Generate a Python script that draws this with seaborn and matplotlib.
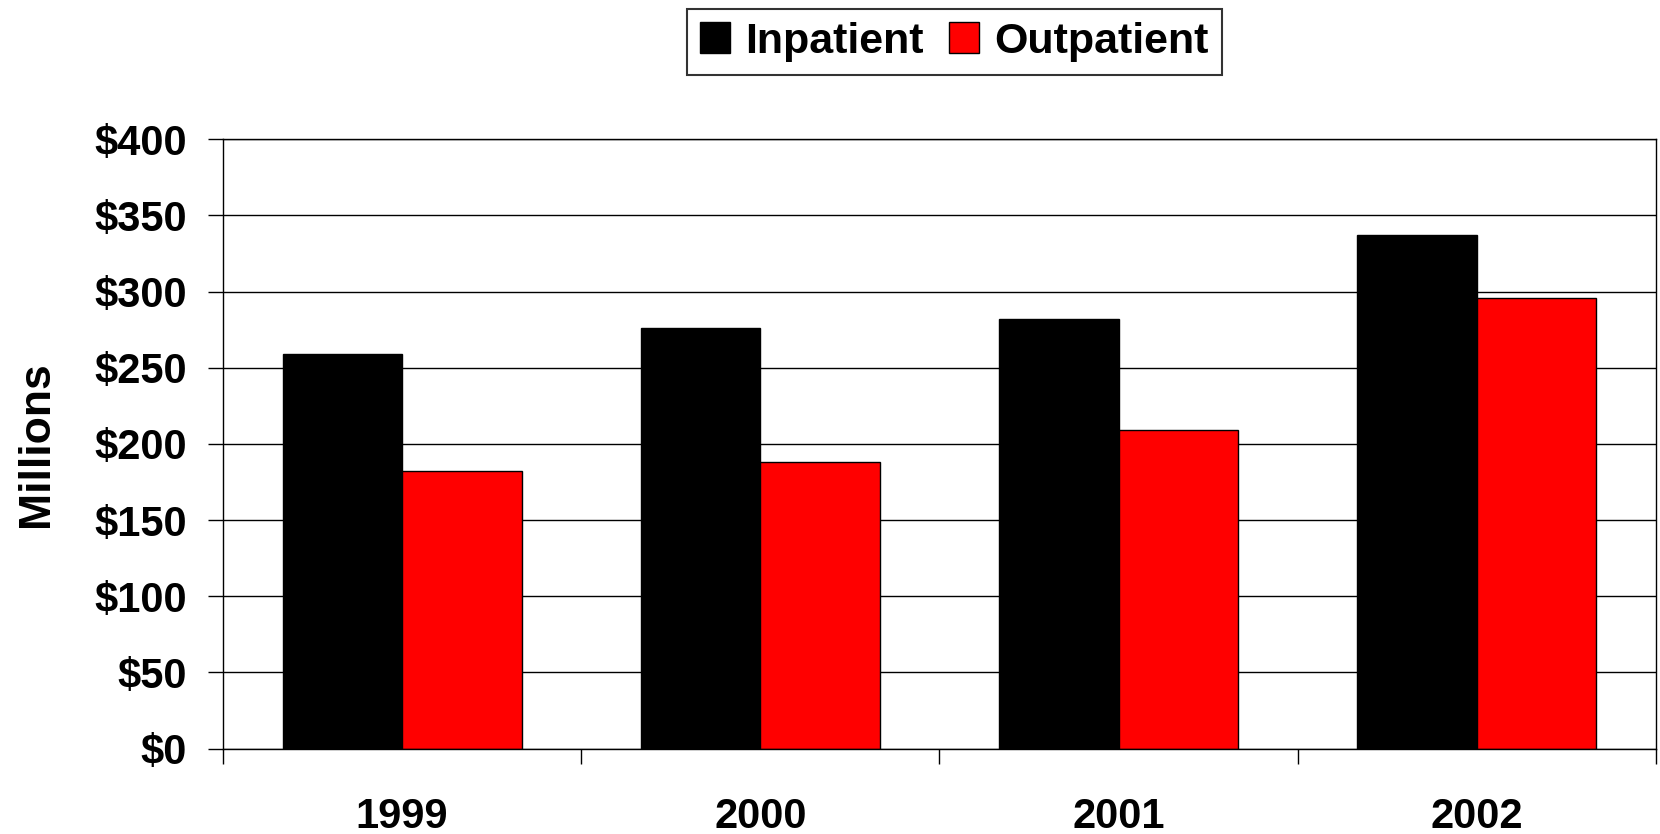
import matplotlib
matplotlib.use("Agg")
import matplotlib.pyplot as plt
import matplotlib.ticker as mticker
from matplotlib.patches import Patch
import seaborn as sns
import pandas as pd

years = ["1999", "2000", "2001", "2002"]
inpatient = [259, 276, 282, 337]
outpatient = [182, 188, 209, 296]
series_names = ["Inpatient", "Outpatient"]
y_ticks = [0, 50, 100, 150, 200, 250, 300, 350, 400]

df = pd.DataFrame({
    "year": years * 2,
    "value": inpatient + outpatient,
    "type": [series_names[0]] * len(years) + [series_names[1]] * len(years),
})

sns.set_theme(style="white")
plt.rcParams["font.family"] = ["Liberation Sans", "DejaVu Sans"]
plt.rcParams["font.weight"] = "bold"
plt.rcParams["text.color"] = "black"
plt.rcParams["xtick.color"] = "black"
plt.rcParams["ytick.color"] = "black"
plt.rcParams["axes.labelcolor"] = "black"

fig = plt.figure(figsize=(16.6, 8.34), dpi=100)
ax = fig.add_axes([0.1343, 0.1025, 0.8633, 0.7305])

sns.barplot(data=df, x="year", y="value", hue="type", order=years,
            hue_order=series_names, palette=["#000000", "#ff0000"],
            saturation=1, width=0.667, gap=0, edgecolor="black", linewidth=1.0,
            ax=ax, legend=False)

ax.set_xlim(-0.5, len(years) - 0.5)
ax.set_ylim(0, 400)
ax.set_yticks(y_ticks)
ax.yaxis.set_major_formatter(mticker.FuncFormatter(lambda v, p: f"${v:.0f}"))
ax.yaxis.grid(True, color="black", linewidth=1.0)
ax.set_axisbelow(True)

# x ticks at category boundaries, labels at centres
ax.set_xticks([i - 0.5 for i in range(len(years) + 1)])
ax.set_xticklabels([])
ax.set_xticks(range(len(years)), minor=True)
ax.set_xticklabels(years, minor=True)
ax.tick_params(axis="x", which="major", direction="out", length=11, width=1.0,
               color="black", bottom=True)
ax.tick_params(axis="x", which="minor", length=0, pad=35, labelsize=30,
               labelcolor="black")
ax.tick_params(axis="y", direction="out", length=11, width=1.0, color="black",
               left=True, pad=15, labelsize=30, labelcolor="black")
for lab in ax.get_xticklabels(minor=True) + ax.get_yticklabels():
    lab.set_fontweight("bold")

for s in ax.spines.values():
    s.set_visible(True)
    s.set_color("black")
    s.set_linewidth(1.0)

ax.set_xlabel("")
ax.set_ylabel("Millions", fontsize=32, fontweight="bold", color="black")
ax.yaxis.set_label_coords(-0.116, 0.5)

handles = [Patch(facecolor="#000000", edgecolor="black", linewidth=1.0),
           Patch(facecolor="#ff0000", edgecolor="black", linewidth=1.0)]
leg = fig.legend(handles, series_names, loc="center", bbox_to_anchor=(0.575, 0.950),
                 ncol=2, frameon=True, fancybox=False, shadow=False,
                 prop={"size": 31, "weight": "bold"},
                 handlelength=0.7, handleheight=0.72, handletextpad=0.36,
                 columnspacing=0.58, borderpad=0.3, borderaxespad=0)
leg.get_frame().set_edgecolor("black")
leg.get_frame().set_linewidth(1.5)
for t in leg.get_texts():
    t.set_color("black")

fig.savefig("out.png", dpi=100)
